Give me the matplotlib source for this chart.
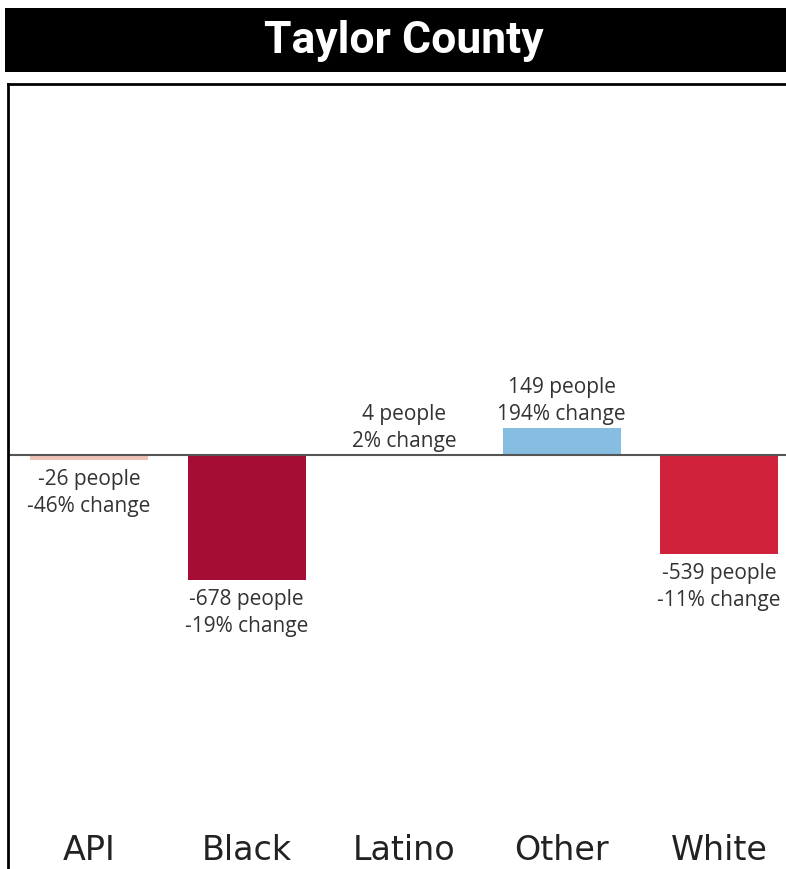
import matplotlib
matplotlib.use("Agg")
import matplotlib.pyplot as plt
from matplotlib.patches import Rectangle
from matplotlib import font_manager

categories = ["API", "Black", "Latino", "Other", "White"]
people = [-26, -678, 4, 149, -539]
pct_change = [-46, -19, 2, 194, -11]
colors = ["#f0c3b8", "#a50d35", "#f5d0c8", "#87bde0", "#d0223b"]

W, H = 786, 869
fig = plt.figure(figsize=(W / 100, H / 100), dpi=100)
renderer = fig.canvas.get_renderer()

# pick the bold face whose width best matches the reference's condensed title (~272 px)
names = {f.name for f in font_manager.fontManager.ttflist}
candidates = []
for fam in ["Roboto Condensed", "Liberation Sans Narrow", "Open Sans Condensed",
            "Noto Sans Condensed", "DejaVu Sans Condensed"]:
    if fam in names:
        candidates.append((fam, "normal"))
for fam in ["Noto Sans", "Open Sans", "DejaVu Sans", "Roboto", "Lato"]:
    for st in ["extra-condensed", "condensed", "semi-condensed"]:
        candidates.append((fam, st))
best = None
for fam, st in candidates:
    t = fig.text(0, 0, "Taylor County", fontsize=32, fontweight="bold", family=fam,
                 fontstretch=st)
    w = t.get_window_extent(renderer).width
    t.remove()
    if best is None or abs(w - 272) < best[0]:
        best = (abs(w - 272), fam, st)
_, tfam, tst = best

# title banner
fig.patches.append(Rectangle((5 / W, 1 - 72 / H), 1, 64 / H, transform=fig.transFigure,
                             facecolor="black", edgecolor="none"))
fig.text(404 / W, 1 - 41 / H, "Taylor County", color="white", ha="center", va="center",
         fontsize=32, fontweight="bold", family=tfam, fontstretch=tst)

# axes: left at x=8, top at y=84, extends to bottom/right edges
ax = fig.add_axes([8 / W, 0, 1 - 8 / W, 1 - 84 / H])
step = 157.5
ax.set_xlim(-(89 - 8) / step, 4 + (786 - 719) / step)
scale = 0.184  # px per person
ymax = (455 - 84) / scale
ymin = -(869 - 455) / scale
ax.set_ylim(ymin, ymax)

x = list(range(len(categories)))
ax.bar(x, people, width=118 / step, color=colors)
ax.axhline(0, color="#555555", lw=1.5)

for xi, p, c in zip(x, people, pct_change):
    txt = f"{p} people\n{c}% change"
    if p < 0:
        ax.text(xi, p - 50, txt, ha="center", va="top", fontsize=15, color="#333333",
                family="Open Sans", linespacing=1.38)
    else:
        ax.text(xi, p + 14, txt, ha="center", va="bottom", fontsize=15, color="#333333",
                family="Open Sans", linespacing=1.38)

for xi, cat in zip(x, categories):
    ax.text(xi, ymin + (869 - 851) / scale, cat, ha="center", va="center", fontsize=24,
            color="#222222", family="DejaVu Sans")

ax.set_xticks([])
ax.set_yticks([])
for s in ["right", "bottom"]:
    ax.spines[s].set_visible(False)
ax.spines["left"].set_linewidth(2)
ax.spines["top"].set_linewidth(2)

fig.savefig("out.png", dpi=100)
